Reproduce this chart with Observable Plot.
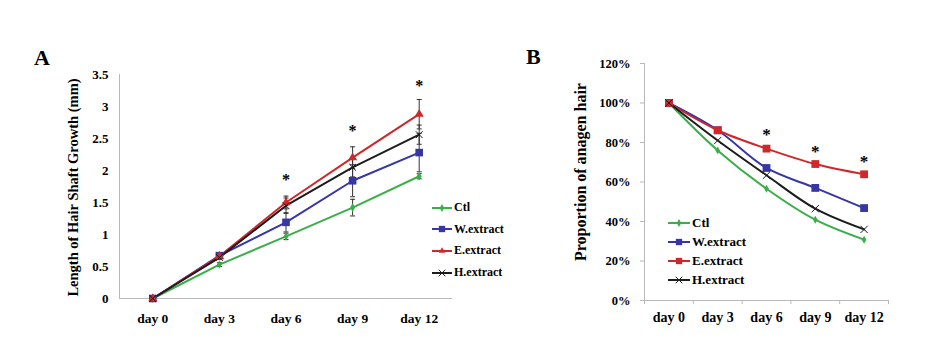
<!DOCTYPE html>
<html>
<head>
<meta charset="utf-8">
<script src="https://cdn.jsdelivr.net/npm/d3@7"></script>
<script src="https://cdn.jsdelivr.net/npm/@observablehq/plot@0.6"></script>
<style>
  body { margin: 0; background: #fff; }
  #wrap { position: relative; width: 950px; height: 360px; overflow: hidden; font-family: 'Liberation Serif', 'Times New Roman', serif; font-weight: bold; }
  .panel { position: absolute; top: 0; }
  .title { position: absolute; font-size: 22px; font-weight: bold; line-height: 1; }
  .legend { position: absolute; }
  .legend .row { display: flex; align-items: center; white-space: nowrap; }
  .legend svg { display: block; }
</style>
</head>
<body>
<div id="wrap"></div>
<script>
// ---- data ----
const days = [0, 3, 6, 9, 12];
const dayLabels = ["day 0", "day 3", "day 6", "day 9", "day 12"];
const seriesNames = ["Ctl", "W.extract", "E.extract", "H.extract"];
const seriesColors = ["#3aae49", "#3636a6", "#d0282a", "#1c1c1c"];
const symbolsA = ["diamond", "square", "triangle", "times"];
const symbolsB = ["diamond", "square", "square", "times"];

// Panel A: length of hair shaft growth (mm)
const growthCtl = [0, 0.53, 0.97, 1.42, 1.91];
const growthW   = [0, 0.67, 1.19, 1.84, 2.28];
const growthE   = [0, 0.66, 1.50, 2.20, 2.88];
const growthH   = [0, 0.64, 1.45, 2.05, 2.56];
const errCtl = [0, 0.03, 0.05, 0.13, 0.04];
const errW   = [0, 0.03, 0.15, 0.25, 0.30];
const errE   = [0, 0.03, 0.10, 0.17, 0.23];
const errH   = [0, 0.03, 0.12, 0.15, 0.15];
const yTicksA = [0, 0.5, 1, 1.5, 2, 2.5, 3, 3.5];

// Panel B: proportion of anagen hair (%)
const anagenCtl = [100, 76.0, 56.6, 40.9, 30.8];
const anagenW   = [100, 86.2, 67.1, 57.0, 46.8];
const anagenE   = [100, 86.2, 76.9, 69.1, 63.9];
const anagenH   = [100, 81.0, 63.4, 46.5, 36.0];
const yTicksB = [0, 20, 40, 60, 80, 100, 120];

// significance markers
const sigDays = [6, 9, 12];
const sigA = [1.875, 2.64, 3.34];
const sigB = [85.3, 77.0, 71.9];

// ---- tables ----
const growth = [growthCtl, growthW, growthE, growthH];
const errs = [errCtl, errW, errE, errH];
const anagen = [anagenCtl, anagenW, anagenE, anagenH];
const rowsA = seriesNames.map((s, i) => days.map((d, j) => ({series: s, day: d, value: growth[i][j], err: errs[i][j]})));
const rowsB = seriesNames.map((s, i) => days.map((d, j) => ({series: s, day: d, value: anagen[i][j]})));
const sigRowsA = sigDays.map((d, i) => ({day: d, value: sigA[i]}));
const sigRowsB = sigDays.map((d, i) => ({day: d, value: sigB[i]}));
const boundaries = [-1.5, 1.5, 4.5, 7.5, 10.5, 13.5];

const capSymbol = {
  draw(ctx, size) { const h = Math.sqrt(size / Math.PI); ctx.moveTo(-h, 0); ctx.lineTo(h, 0); }
};

const axisGray = "#b9b9b9";
const fontFamily = "'Liberation Serif', 'Times New Roman', serif";

function seriesMarks(rows, symbols, curve, sizes) {
  const marks = [];
  rows.forEach((r, i) => {
    marks.push(Plot.line(r, {x: "day", y: "value", stroke: seriesColors[i], strokeWidth: 2, curve}));
  });
  rows.forEach((r, i) => {
    const sym = symbols[i];
    if (sym === "times") {
      marks.push(Plot.dot(r, {x: "day", y: "value", symbol: sym, r: sizes[sym], stroke: seriesColors[i], strokeWidth: 1, fill: "none"}));
    } else {
      marks.push(Plot.dot(r, {x: "day", y: "value", symbol: sym, r: sizes[sym], fill: seriesColors[i], stroke: "none"}));
    }
  });
  return marks;
}

// ---- Panel A ----
const errRows = rowsA.flat().filter(d => d.err > 0);
const plotA = Plot.plot({
  width: 520, height: 360,
  marginLeft: 119, marginRight: 68, marginTop: 74, marginBottom: 62,
  style: {fontFamily, fontWeight: "bold", fontSize: "13px", background: "transparent", color: "black"},
  x: {domain: [-1.5, 13.5]},
  y: {domain: [0, 3.5]},
  marks: [
    Plot.ruleX([-1.5], {stroke: axisGray}),
    Plot.ruleY([0], {stroke: axisGray}),
    Plot.axisY({ticks: yTicksA, tickFormat: d => String(d), tickSize: 0, tickPadding: 11, label: null, fill: "black", fontSize: 13}),
    Plot.axisX({ticks: days, tickFormat: d => dayLabels[days.indexOf(d)], tickSize: 0, tickPadding: 15, label: null, fill: "black", fontSize: 13.5}),
    Plot.text(["Length of Hair Shaft Growth (mm)"], {frameAnchor: "left", textAnchor: "middle", lineAnchor: "middle", rotate: -90, dx: -46, dy: 1, fontSize: 14.5, fill: "black"}),
    Plot.ruleX(errRows, {x: "day", y1: d => d.value - d.err, y2: d => d.value + d.err, stroke: "#333", strokeWidth: 1}),
    Plot.dot(errRows, {x: "day", y: d => d.value - d.err, symbol: capSymbol, r: 2.5, stroke: "#333", strokeWidth: 1}),
    Plot.dot(errRows, {x: "day", y: d => d.value + d.err, symbol: capSymbol, r: 2.5, stroke: "#333", strokeWidth: 1}),
    ...seriesMarks(rowsA, symbolsA, "linear", {diamond: 2.6, square: 4.3, triangle: 3.4, times: 3.2}),
    Plot.text(sigRowsA, {x: "day", y: "value", text: () => "*", fontSize: 16, dy: 1, fill: "black"})
  ]
});

// ---- Panel B ----
const plotB = Plot.plot({
  width: 430, height: 360,
  marginLeft: 124, marginRight: 62, marginTop: 63, marginBottom: 60,
  style: {fontFamily, fontWeight: "bold", fontSize: "13px", background: "transparent", color: "black"},
  x: {domain: [-1.5, 13.5]},
  y: {domain: [0, 120]},
  marks: [
    Plot.ruleX([-1.5], {stroke: axisGray}),
    Plot.ruleY([0], {stroke: axisGray}),
    Plot.axisY({ticks: yTicksB, tickFormat: d => d + "%", tickSize: 4, tickPadding: 10, stroke: axisGray, label: null, fill: "black", fontSize: 12.5}),
    Plot.axisX({ticks: boundaries, tickFormat: () => "", tickSize: 4, stroke: axisGray, label: null}),
    Plot.axisX({ticks: days, tickFormat: d => dayLabels[days.indexOf(d)], tickSize: 0, tickPadding: 12, label: null, fill: "black", fontSize: 14}),
    Plot.text(["Proportion of anagen hair"], {frameAnchor: "left", textAnchor: "middle", lineAnchor: "middle", rotate: -90, dx: -64, dy: -10, fontSize: 16, fill: "black"}),
    ...seriesMarks(rowsB, symbolsB, "catmull-rom", {diamond: 2.4, square: 4.4, triangle: 3.4, times: 3.4}),
    Plot.text(sigRowsB, {x: "day", y: "value", text: () => "*", fontSize: 17, dy: 3, fill: "black"})
  ]
});

// ---- layout ----
const wrap = document.getElementById("wrap");
const pa = document.createElement("div"); pa.className = "panel"; pa.style.left = "0px"; pa.appendChild(plotA); wrap.appendChild(pa);
const pb = document.createElement("div"); pb.className = "panel"; pb.style.left = "520px"; pb.appendChild(plotB); wrap.appendChild(pb);

function addTitle(text, left, top) {
  const t = document.createElement("div");
  t.className = "title"; t.textContent = text;
  t.style.left = left + "px"; t.style.top = top + "px";
  wrap.appendChild(t);
}
addTitle("A", 34, 47);
addTitle("B", 526, 46);

function addLegend(left, top, rowH, fontSize, symbols, lineW) {
  const lg = document.createElement("div");
  lg.className = "legend";
  lg.style.left = left + "px"; lg.style.top = top + "px";
  seriesNames.forEach((name, i) => {
    const row = document.createElement("div");
    row.className = "row"; row.style.height = rowH + "px";
    const svg = d3.create("svg").attr("width", lineW + 2).attr("height", 12);
    svg.append("line").attr("x1", 0).attr("x2", lineW).attr("y1", 6).attr("y2", 6)
      .attr("stroke", seriesColors[i]).attr("stroke-width", 2);
    const sym = symbols[i];
    const map = {diamond: d3.symbolDiamond, square: d3.symbolSquare, triangle: d3.symbolTriangle, times: d3.symbolTimes};
    const size = sym === "square" ? 40 : sym === "times" ? 30 : 18;
    const p = svg.append("path").attr("d", d3.symbol(map[sym], size)()).attr("transform", `translate(${lineW / 2},6)`);
    if (sym === "times") p.attr("fill", "none").attr("stroke", seriesColors[i]).attr("stroke-width", 1);
    else p.attr("fill", seriesColors[i]);
    row.appendChild(svg.node());
    const span = document.createElement("span");
    span.textContent = name; span.style.fontSize = fontSize + "px";
    row.appendChild(span);
    lg.appendChild(row);
  });
  wrap.appendChild(lg);
}
addLegend(432, 197, 21.6, 12, symbolsA, 20);
addLegend(668, 213, 19, 13, symbolsB, 22);
</script>
</body>
</html>
